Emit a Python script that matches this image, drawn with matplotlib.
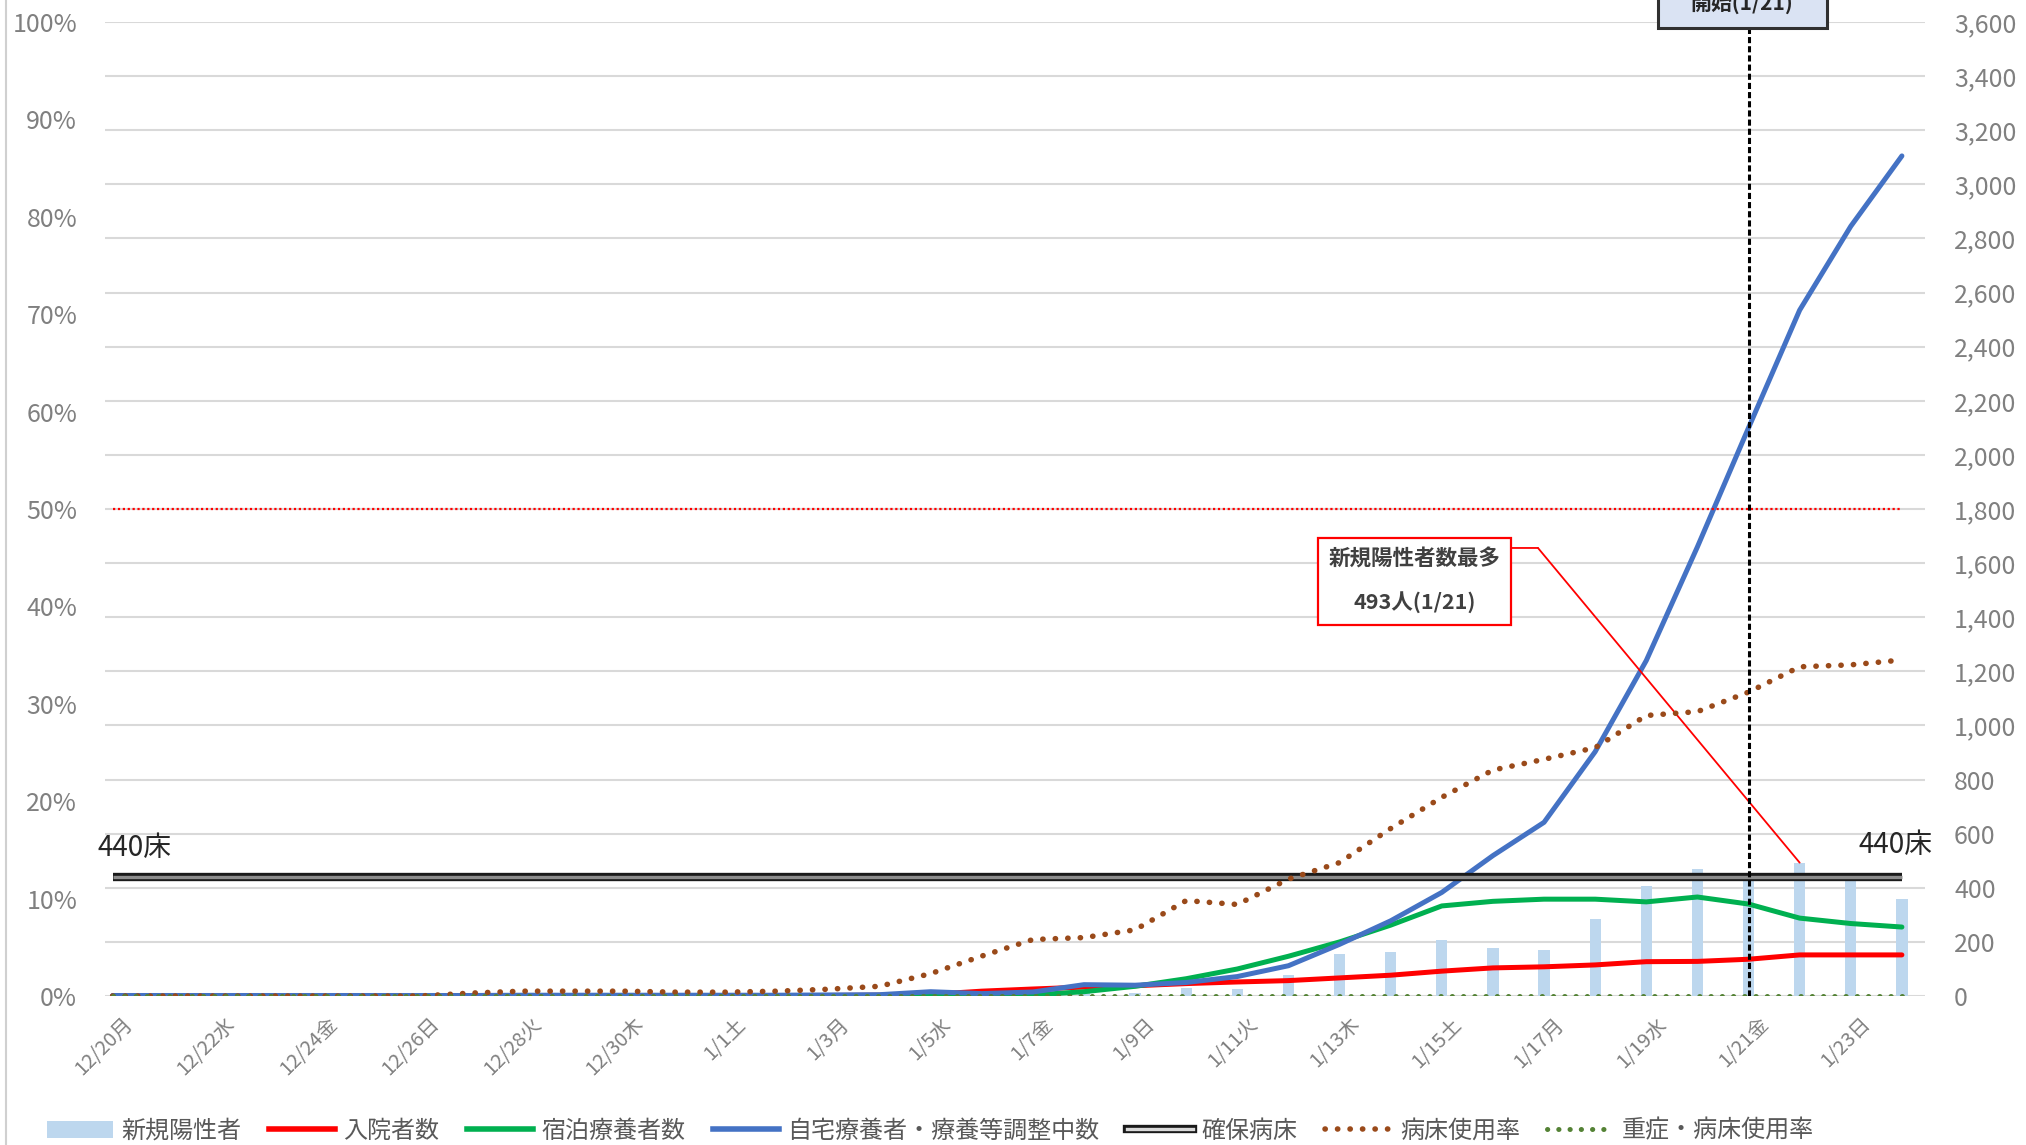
import matplotlib
matplotlib.use("Agg")
import matplotlib.pyplot as plt
import matplotlib.patheffects as pe
from matplotlib.lines import Line2D
from matplotlib.patches import Patch, Rectangle
from matplotlib.ticker import FuncFormatter, MultipleLocator
from matplotlib.transforms import ScaledTranslation

plt.rcParams['font.family'] = ['Noto Sans CJK JP', 'DejaVu Sans']

# 12/20 .. 1/24, one value per day
dates = ['12/20', '12/21', '12/22', '12/23', '12/24', '12/25', '12/26', '12/27',
         '12/28', '12/29', '12/30', '12/31', '1/1', '1/2', '1/3', '1/4', '1/5',
         '1/6', '1/7', '1/8', '1/9', '1/10', '1/11', '1/12', '1/13', '1/14',
         '1/15', '1/16', '1/17', '1/18', '1/19', '1/20', '1/21', '1/22', '1/23',
         '1/24']
tick_labels = ['12/20月', '12/22水', '12/24金', '12/26日', '12/28火', '12/30木',
               '1/1土', '1/3月', '1/5水', '1/7金', '1/9日', '1/11火', '1/13木',
               '1/15土', '1/17月', '1/19水', '1/21金', '1/23日']

new_cases = [0, 0, 0, 0, 0, 0, 0, 1, 1, 1, 0, 0, 0, 1, 1, 2, 4, 6, 8, 10, 12,
             28, 25, 78, 154, 163, 206, 177, 170, 286, 407, 469, 440, 493, 444, 358]
hospitalized = [0, 0, 0, 0, 0, 0, 0, 1, 2, 2, 2, 2, 2, 2, 2, 3, 6, 18, 26, 33,
                38, 46, 52, 57, 67, 77, 92, 104, 108, 115, 127, 128, 136, 152,
                152, 152]
hotel = [0, 0, 0, 0, 0, 0, 0, 0, 0, 0, 0, 0, 0, 0, 0, 0, 0, 1, 4, 16, 36, 64,
         100, 147, 200, 262, 333, 350, 358, 358, 348, 366, 340, 288, 268, 255]
home = [2, 2, 2, 2, 2, 2, 2, 2, 3, 3, 3, 3, 3, 3, 4, 5, 16, 9, 15, 42, 40, 50,
        72, 112, 191, 278, 383, 519, 642, 903, 1240, 1660, 2100, 2535, 2845, 3105]
bed_rate = [0.0, 0.0, 0.0, 0.0, 0.0, 0.0, 0.0, 0.003, 0.005, 0.005, 0.005,
            0.004, 0.004, 0.005, 0.007, 0.010, 0.023, 0.041, 0.058, 0.060,
            0.068, 0.098, 0.094, 0.120, 0.137, 0.172, 0.204, 0.232, 0.243,
            0.255, 0.288, 0.292, 0.312, 0.338, 0.340, 0.345]
severe_rate = [0.0] * 36
secured_beds = 440
alert_rate = 0.5
start_date = '1/21'

C_BAR = '#BDD7EE'
C_RED = '#FF0000'
C_GREEN = '#00B050'
C_BLUE = '#4472C4'
C_BROWN = '#9A4A1A'
C_OLIVE = '#548235'
C_TICK = '#808080'
C_GRID = '#D9D9D9'
DOTS = (0, (0.05, 2.2))

fig = plt.figure(figsize=(20.26, 11.45), dpi=100)
ax = fig.add_axes([0.0518, 0.1301, 0.8983, 0.8507])
axp = ax.twinx()
axp.patch.set_visible(False)

x = list(range(len(dates)))

# counts (right axis)
ax.bar(x, new_cases, width=0.22, color=C_BAR, zorder=2)
ax.plot(x, hospitalized, color=C_RED, lw=3.6, zorder=3, solid_capstyle='round')
ax.plot(x, hotel, color=C_GREEN, lw=3.6, zorder=3, solid_capstyle='round')
ax.plot(x, home, color=C_BLUE, lw=3.6, zorder=3, solid_capstyle='round')
bed_fx = [pe.Stroke(linewidth=6.0, foreground='#1A1A1A'), pe.Normal()]
ax.hlines(secured_beds, x[0], x[-1], color='#8C8C8C', lw=2.4, zorder=4,
          path_effects=bed_fx)

ax.set_xlim(-0.15, 35.45)
ax.set_ylim(0, 3600)
ax.yaxis.set_major_locator(MultipleLocator(200))
ax.yaxis.set_major_formatter(FuncFormatter(lambda v, p: f'{v:,.0f}'))
ax.grid(axis='y', color=C_GRID, lw=1.5)
ax.set_axisbelow(True)

# rates (left axis)
axp.plot(x, bed_rate, color=C_BROWN, lw=4.0, linestyle=DOTS,
         dash_capstyle='round', zorder=3)
axp.plot(x, severe_rate, color=C_OLIVE, lw=3.6, linestyle=DOTS,
         dash_capstyle='round', zorder=3)
axp.hlines(alert_rate, x[0], x[-1], color='#FF0000', lw=1.6,
           linestyles=(0, (1, 1.2)), zorder=3)
axp.set_ylim(0, 1)
axp.yaxis.set_major_locator(MultipleLocator(0.1))
axp.yaxis.set_major_formatter(FuncFormatter(lambda v, p: f'{v:.0%}'))

ax.yaxis.set_ticks_position('right')
axp.yaxis.set_ticks_position('left')
ax.tick_params(axis='y', length=0, pad=21, labelsize=18, labelcolor=C_TICK)
axp.tick_params(axis='y', length=0, pad=20, labelsize=18, labelcolor=C_TICK)
for lab in ax.get_yticklabels():
    lab.set_horizontalalignment('left')

ax.set_xticks(x[::2])
ax.set_xticklabels(tick_labels, rotation=45, ha='right', va='center',
                   rotation_mode='anchor')
ax.tick_params(axis='x', length=0, pad=18, labelsize=14.5, labelcolor=C_TICK)
shift = ScaledTranslation(17 / 100, 0, fig.dpi_scale_trans)
for lab in ax.get_xticklabels():
    lab.set_transform(lab.get_transform() + shift)

for a in (ax, axp):
    for s in a.spines.values():
        s.set_visible(False)

# start of measures (1/21)
xi = dates.index(start_date)
axp.axvline(xi, ymin=0, ymax=1.0, color='black', lw=2.2,
            linestyle=(0, (2.0, 1.0)), zorder=5)
fig.patches.append(Rectangle((1658 / 2026, 1 - 28 / 1145), 169 / 2026, 0.1,
                             transform=fig.transFigure, facecolor='#DAE3F3',
                             edgecolor='#303030', lw=2.2, zorder=6))
fig.text(1742 / 2026, 1 - 3 / 1145, '開始(1/21)', ha='center', va='center',
         fontsize=15, fontweight='bold', color='#262626', zorder=7)

# peak annotation
peak_i = new_cases.index(max(new_cases))
ax.annotate('', xy=(0.7874, 0.46), xycoords='axes fraction',
            xytext=(0.7714, 0.46), textcoords='axes fraction',
            arrowprops=dict(arrowstyle='-', color='#FF0000', lw=1.3,
                            shrinkA=0, shrinkB=0), zorder=6)
ax.annotate('', xy=(x[peak_i], new_cases[peak_i]), xycoords='data',
            xytext=(0.7874, 0.46), textcoords='axes fraction',
            arrowprops=dict(arrowstyle='-', color='#FF0000', lw=1.3,
                            shrinkA=0, shrinkB=0), zorder=6)
ax.text(0.7195, 0.426, '新規陽性者数最多\n493人(1/21)', transform=ax.transAxes,
        ha='center', va='center', fontsize=15.5, fontweight='bold',
        color='#404040', linespacing=2.25, zorder=7,
        bbox=dict(boxstyle='square,pad=0.5', fc='white', ec='#FF0000', lw=1.6))

# bed labels
ax.text(-0.004, 0.152, '440床', transform=ax.transAxes, ha='left',
        va='center', fontsize=20, color='#262626')
ax.text(1.004, 0.155, '440床', transform=ax.transAxes, ha='right',
        va='center', fontsize=20, color='#262626')

# chart border on the left
fig.add_artist(Line2D([6 / 2026, 6 / 2026], [0, 1], transform=fig.transFigure,
                      color='#D0D0D0', lw=1.5))

handles = [
    Patch(facecolor=C_BAR, edgecolor='none'),
    Line2D([], [], color=C_RED, lw=4),
    Line2D([], [], color=C_GREEN, lw=4),
    Line2D([], [], color=C_BLUE, lw=4),
    Line2D([], [], color='#D9D9D9', lw=2.4, path_effects=bed_fx),
    Line2D([], [], color=C_BROWN, lw=4.0, linestyle=DOTS,
           dash_capstyle='round'),
    Line2D([], [], color=C_OLIVE, lw=3.6, linestyle=DOTS,
           dash_capstyle='round'),
]
labels = ['新規陽性者', '入院者数', '宿泊療養者数', '自宅療養者・療養等調整中数',
          '確保病床', '病床使用率', '重症・病床使用率']
fig.legend(handles, labels, loc='center left', bbox_to_anchor=(0.023, 0.0125),
           ncol=7, frameon=False, fontsize=17.3, handlelength=2.75,
           handletextpad=0.35, columnspacing=1.15, borderpad=0,
           borderaxespad=0, labelcolor='#595959')

fig.savefig('out.png', dpi=100, facecolor='white')
